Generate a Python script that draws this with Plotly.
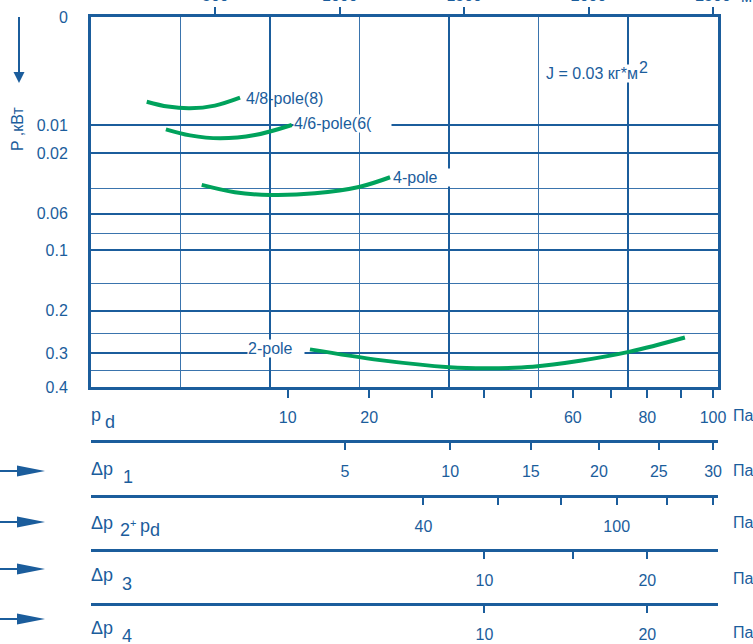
import numpy as np
import plotly.graph_objects as go

# ---------------- data ----------------
Q_MAX = 2520          # m3/h at right edge of the frame
Q_REF = 2500          # air flow at which the pressure scales reach their reference value
Q_TICKS = [500, 1000, 1500, 2000, 2500]
Q_GRID_MAJOR = [720, 1440, 2160]
Q_GRID_MINOR = [360, 1080, 1800]

P_MAX = 0.4
P_TICKS = [0, 0.01, 0.02, 0.06, 0.1, 0.2, 0.3, 0.4]
P_TICK_LABELS = ["0", "0.01", "0.02", "0.06", "0.1", "0.2", "0.3", "0.4"]
P_GRID_MINOR = [0.04, 0.08, 0.15, 0.25, 0.35]

# fan power curves (Q in m3/h, P in kW)
q_48 = [224, 309, 398, 498, 599]
p_48 = [0.0048, 0.00568, 0.00601, 0.00549, 0.00415]
q_46 = [301, 398, 518, 659, 807]
p_46 = [0.0112, 0.0131, 0.0141, 0.0130, 0.00995]
q_4 = [445, 578, 719, 900, 1081, 1202]
p_4 = [0.0374, 0.0425, 0.0445, 0.0433, 0.0386, 0.0325]
q_2 = [880, 1162, 1440, 1590, 1776, 1965, 2166, 2387]
p_2 = [0.290, 0.319, 0.339, 0.342, 0.338, 0.321, 0.296, 0.260]

# pressure scales (Pa); *_REF = pressure at Q_REF
PD_REF = 100
PD_TICKS = [10, 20, 30, 40, 50, 60, 70, 80, 90, 100]
PD_LABELS = ["10", "20", "", "", "", "60", "", "80", "", "100"]
DP1_REF = 30
DP1_TICKS = [5, 10, 15, 20, 25, 30]
DP1_LABELS = ["5", "10", "15", "20", "25", "30"]
DP2_REF = 140
DP2_TICKS = [40, 60, 80, 100, 120, 140]
DP2_LABELS = ["40", "", "", "100", "", ""]
DP3_REF = 25
DP3_TICKS = [10, 15, 20]
DP3_LABELS = ["10", "", "20"]
DP4_REF = 25
DP4_TICKS = [10, 20]
DP4_LABELS = ["10", "20"]

# ---------------- style ----------------
BLUE = "#1b5d9c"
BLUE_L = "#3a74ad"
GREEN = "#00a25c"
FONT = "Noto Sans Condensed, Liberation Sans Narrow, Liberation Sans, sans-serif"
FS = 16

W, H = 753, 644
ML, MR, MT, MB = 91, 35, 17, 40
PW, PH = W - ML - MR, H - MT - MB


def fx(px):
    return (px - ML) / PW


def fy(py):
    return (H - MB - py) / PH


def tr(p):
    return np.cbrt(np.asarray(p, dtype=float))


def qpos(ticks, ref):
    return [Q_REF * np.sqrt(t / ref) for t in ticks]


fig = go.Figure()
for q, p in [(q_48, p_48), (q_46, p_46), (q_4, p_4), (q_2, p_2)]:
    fig.add_trace(go.Scatter(x=q, y=tr(p), mode="lines", line=dict(color=GREEN, width=4, shape="spline"),
                             hoverinfo="skip", showlegend=False))
# empty traces so that every auxiliary axis is drawn
for ax in ["x2", "x3", "x4", "x5", "x6", "x7"]:
    fig.add_trace(go.Scatter(x=[None], y=[None], xaxis=ax, yaxis="y", mode="lines",
                             hoverinfo="skip", showlegend=False))

tickfont = dict(family=FONT, size=FS, color=BLUE)
common = dict(range=[0, Q_MAX], showgrid=False, zeroline=False, tickfont=tickfont, fixedrange=True,
              tickcolor=BLUE, linecolor=BLUE, ticks="outside", tickmode="array", automargin=False)


def scale_axis(ticks, labels, ref, pos):
    d = dict(common)
    d.update(anchor="free", position=pos, overlaying="x", side="bottom",
             tickvals=qpos(ticks, ref), ticktext=labels, ticklen=7, tickwidth=1.5,
             showline=True, linewidth=2.5, ticklabelstandoff=8)
    return d


x1 = dict(common)
x1.update(anchor="y", side="bottom", tickvals=qpos(PD_TICKS, PD_REF), ticktext=PD_LABELS,
          ticklen=8, tickwidth=1.5, showline=True, linewidth=3, mirror=True, ticklabelstandoff=6)
x2 = dict(common)
x2.update(anchor="y", side="top", overlaying="x", tickvals=Q_TICKS, ticktext=[str(v) for v in Q_TICKS],
          ticklen=9, tickwidth=2, showline=False, ticklabelstandoff=0)
x7 = dict(common)
x7.update(anchor="y", overlaying="x", side="bottom", tickvals=Q_GRID_MAJOR, ticks="", showticklabels=False,
          showline=False, showgrid=True, gridcolor=BLUE, gridwidth=2,
          minor=dict(tickvals=Q_GRID_MINOR, showgrid=True, gridcolor=BLUE_L, gridwidth=1, ticks=""))

ydom0 = fy(387)
fig.update_layout(
    width=W, height=H, margin=dict(l=ML, r=MR, t=MT, b=MB, pad=0),
    paper_bgcolor="white", plot_bgcolor="white", showlegend=False,
    font=dict(family=FONT, size=FS, color=BLUE),
    xaxis=x1, xaxis2=x2,
    xaxis3=scale_axis(DP1_TICKS, DP1_LABELS, DP1_REF, fy(441)),
    xaxis4=scale_axis(DP2_TICKS, DP2_LABELS, DP2_REF, fy(496)),
    xaxis5=scale_axis(DP3_TICKS, DP3_LABELS, DP3_REF, fy(550)),
    xaxis6=scale_axis(DP4_TICKS, DP4_LABELS, DP4_REF, fy(604) + 0.0001),
    xaxis7=x7,
    yaxis=dict(domain=[ydom0, 1], range=[float(tr(P_MAX)), 0], tickmode="array", fixedrange=True,
               tickvals=tr(P_TICKS), ticktext=P_TICK_LABELS, ticks="", ticklabelstandoff=17,
               tickfont=tickfont, showgrid=True, gridcolor=BLUE, gridwidth=1.5, zeroline=False,
               showline=True, mirror=True, linecolor=BLUE, linewidth=3, automargin=False,
               minor=dict(tickvals=tr(P_GRID_MINOR), showgrid=True, gridcolor=BLUE_L, gridwidth=1, ticks="")),
)

ann = []


def text(px, py, s, xanchor="left", bg=None, width=None, angle=0, size=FS):
    d = dict(x=fx(px), y=fy(py), xref="paper", yref="paper", text=s, showarrow=False,
             xanchor=xanchor, yanchor="middle", font=dict(family=FONT, size=size, color=BLUE),
             textangle=angle, borderpad=0)
    if bg:
        d["bgcolor"] = bg
    if width:
        d["width"] = width
        d["align"] = "left"
    ann.append(d)


text(245, 98, "4/8-pole(8)")
text(293, 123, "4/6-pole(6(", bg="white", width=97)
text(392, 177, "4-pole", bg="white", width=58)
text(247, 348, "2-pole", bg="white", width=56)
text(545, 74, "J = 0.03 кг*м", bg="white")
text(638, 68, "2")
text(17, 129, "P ,кВт", xanchor="center", angle=-90)
text(740, -3, "м³/ч")

# scale names (subscripts drawn as separate full-size texts, as in the reference)
SN = 18
text(90, 415, "p", size=SN)
text(104, 422, "d", size=SN)
text(90, 469, "Δp", size=SN)
text(122, 477, "1", size=SN)
text(90, 523, "Δp", size=SN)
text(119, 530, "2", size=SN)
text(129, 523, "+", size=11)
text(139, 526, "p", size=SN)
text(149, 530, "d", size=SN)
text(90, 575, "Δp", size=SN)
text(121, 584, "3", size=SN)
text(90, 628, "Δp", size=SN)
text(121, 636, "4", size=SN)
for yy in [415, 470, 522, 578, 632]:
    text(732, yy, "Па")

shapes = []


def arrow_right(py):
    shapes.append(dict(type="line", xref="paper", yref="paper", x0=fx(0), x1=fx(20), y0=fy(py), y1=fy(py),
                       line=dict(color=BLUE, width=2)))
    shapes.append(dict(type="path", xref="paper", yref="paper",
                       path=f"M {fx(17)},{fy(py - 5.5)} L {fx(45)},{fy(py)} L {fx(17)},{fy(py + 5.5)} Z",
                       fillcolor=BLUE, line=dict(width=0)))


for yy in [471, 522, 569, 619]:
    arrow_right(yy)

shapes.append(dict(type="line", xref="paper", yref="paper", x0=fx(19), x1=fx(19), y0=fy(17), y1=fy(73),
                   line=dict(color=BLUE, width=2)))
shapes.append(dict(type="path", xref="paper", yref="paper",
                   path=f"M {fx(13.5)},{fy(72)} L {fx(19)},{fy(83)} L {fx(24.5)},{fy(72)} Z",
                   fillcolor=BLUE, line=dict(width=0)))

fig.update_layout(annotations=ann, shapes=shapes)

fig.write_html("out.html", config={"displayModeBar": False},
               post_script="document.body.style.margin='0';document.body.style.overflow='hidden';")
